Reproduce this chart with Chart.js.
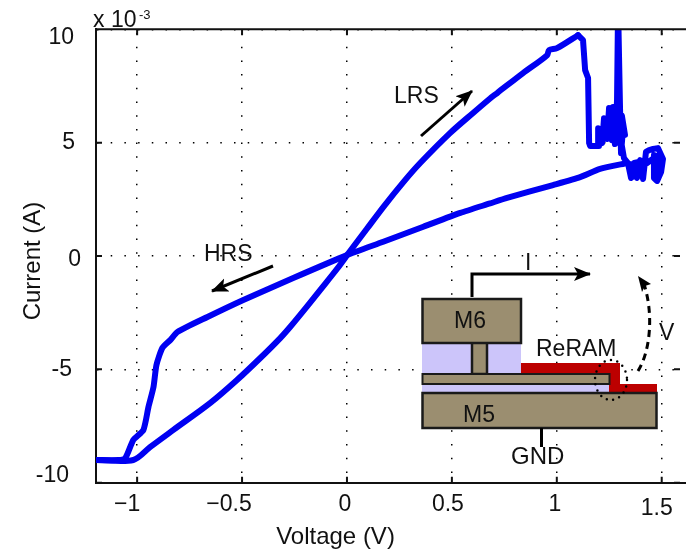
<!DOCTYPE html>
<html>
<head>
<meta charset="utf-8">
<script src="https://cdn.jsdelivr.net/npm/chart.js@4"></script>
<style>
  html, body { margin: 0; padding: 0; background: #fff; }
  #wrap { position: relative; width: 686px; height: 556px; overflow: hidden; }
  #overlay { position: absolute; left: 0; top: 0; }
  #overlay text { font-family: "Liberation Sans", Arial, sans-serif; font-size: 23px; fill: #111; }
</style>
</head>
<body>
<div id="wrap">
  <canvas id="myChart" width="686" height="556"></canvas>
  <svg id="overlay" width="686" height="556">
    <defs>
      <marker id="head" markerUnits="userSpaceOnUse" markerWidth="18" markerHeight="16" refX="16" refY="8" orient="auto">
        <path d="M0,1 L17,8 L0,15 L4,8 z" fill="#000"></path>
      </marker>
    </defs>
    <!-- state labels -->
    <text x="394" y="103">LRS</text>
    <line x1="421" y1="136" x2="472" y2="91" stroke="#000" stroke-width="3" marker-end="url(#head)"></line>
    <text x="204" y="261">HRS</text>
    <line x1="273" y1="266" x2="212" y2="291" stroke="#000" stroke-width="3" marker-end="url(#head)"></line>

    <!-- device cross section -->
    <rect x="422" y="343" width="99" height="31" fill="#ccc5fa"></rect>
    <rect x="422" y="384" width="188" height="9" fill="#ccc5fa"></rect>
    <path d="M521,363 H620 V384 H657 V393 H609 V374 H521 z" fill="#bc0000"></path>
    <rect x="472" y="342" width="15" height="32" fill="#9b8e70" stroke="#1a1a1a" stroke-width="2.5"></rect>
    <rect x="422.5" y="374" width="187" height="10" fill="#9b8e70" stroke="#1a1a1a" stroke-width="2"></rect>
    <rect x="422.5" y="299" width="98.5" height="44" fill="#9b8e70" stroke="#1a1a1a" stroke-width="2.5"></rect>
    <rect x="422.5" y="393" width="234" height="35" fill="#9b8e70" stroke="#1a1a1a" stroke-width="2.5"></rect>
    <text x="454" y="328">M6</text>
    <text x="463" y="422">M5</text>
    <text x="536" y="356">ReRAM</text>
    <text x="511" y="464" style="font-size:24px">GND</text>
    <line x1="541.5" y1="428" x2="541.5" y2="447" stroke="#000" stroke-width="3"></line>
    <ellipse cx="611" cy="380" rx="16" ry="20" fill="none" stroke="#000" stroke-width="2.5" stroke-linecap="round" stroke-dasharray="0 6.5"></ellipse>

    <!-- current and voltage -->
    <path d="M472,297 V274 H590" fill="none" stroke="#000" stroke-width="3" marker-end="url(#head)"></path>
    <text x="525" y="270">I</text>
    <path d="M638,371 C650,352 654,315 644,284" fill="none" stroke="#000" stroke-width="3" stroke-dasharray="7 5"></path>
    <path d="M638,276 L651,284 L645,286 L642,292 z" fill="#000"></path>
    <text x="659" y="340">V</text>
  </svg>
</div>
<script>
// voltage (V) and current (x 10^-3 A), in sweep order
const hrsVoltage = [1.335, 1.206, 1.111, 0.982, 0.763, 0.682, 0.540, 0.364, 0.173, 0, -0.256, -0.494, -0.665, -0.808, -0.841, -0.880, -0.908, -0.922, -0.946, -0.970, -1.018, -1.056, -1.089, -1.194];
const hrsCurrent = [4.10, 3.84, 3.48, 3.13, 2.56, 2.32, 1.90, 1.29, 0.63, 0.04, -0.97, -1.94, -2.69, -3.35, -3.70, -4.06, -4.81, -5.78, -6.66, -7.67, -8.11, -8.91, -9.0, -9.0];

const lrsVoltage = [-1.194, -1.018, -0.937, -0.827, -0.651, -0.524, -0.413, -0.318, -0.270, -0.190, -0.127, -0.046, 0.016, 0.095, 0.174, 0.270, 0.349, 0.491, 0.601, 0.682, 0.716, 0.839, 0.954, 0.963, 1.001, 1.101];
const lrsCurrent = [-9.0, -9.0, -8.42, -7.67, -6.48, -5.47, -4.50, -3.62, -3.12, -2.22, -1.49, -0.55, 0.23, 1.20, 2.17, 3.27, 4.10, 5.42, 6.31, 6.95, 7.19, 8.07, 8.86, 9.08, 9.17, 9.74];

const resetVoltage = [1.101, 1.125, 1.135, 1.149, 1.154, 1.159, 1.201, 1.197, 1.216, 1.225, 1.240, 1.249, 1.263, 1.268, 1.277, 1.287, 1.292, 1.301, 1.306, 1.316, 1.325, 1.310, 1.295, 1.280, 1.270, 1.258, 1.245, 1.230, 1.215, 1.205, 1.240, 1.270, 1.300, 1.320, 1.339, 1.354, 1.360, 1.375, 1.390, 1.405, 1.420, 1.368, 1.382, 1.397, 1.411, 1.425, 1.440, 1.459, 1.482, 1.506, 1.497, 1.478, 1.463, 1.463, 1.470, 1.490, 1.475, 1.397, 1.335];
const resetCurrent = [9.74, 9.52, 8.20, 7.85, 4.98, 4.85, 4.85, 5.64, 4.98, 6.08, 5.16, 6.53, 5.11, 6.57, 4.94, 6.88, 11.0, 6.66, 4.54, 5.64, 5.34, 6.20, 5.00, 6.30, 5.30, 6.50, 5.40, 5.90, 5.40, 5.50, 5.80, 5.60, 5.40, 4.32, 4.10, 3.44, 4.00, 3.50, 4.00, 3.60, 4.20, 4.10, 3.44, 4.23, 3.40, 4.59, 4.67, 4.72, 4.76, 4.28, 3.70, 3.31, 3.44, 4.45, 3.50, 4.20, 4.40, 3.88, 4.10];

const xTicks = [-1, -0.5, 0, 0.5, 1, 1.5];
const xTickLabels = ['\u22121', '\u22120.5', '0', '0.5', '1', '1.5'];
const yTicks = [-10, -5, 0, 5, 10];
const yTickLabels = ['-10', '-5', '0', '5', '10'];

const toPoints = (xs, ys) => xs.map((x, i) => ({ x: x, y: ys[i] }));
const fontFamily = '"Liberation Sans", Arial, sans-serif';

// the tick labels in the figure sit a little off their ticks
const xLabelShift = { '\u22121': [-10, 0], '\u22120.5': [-13, 0], '0': [-2, 0], '0.5': [-4, 0], '1': [-2, 0], '1.5': [-5, 4] };
const yLabelShift = { '10': [0, 8], '5': [1, 0], '0': [7, 4], '-5': [-2, 0], '-10': [-5, -7] };

// MATLAB style axes: inward ticks, top line, axis titles, exponent note
const matlabAxes = {
    id: 'matlabAxes',
    beforeDraw(chart) {
        const shift = (scale, table) => scale.getLabelItems(chart.chartArea).forEach(item => {
            const d = table[item.label];
            item.options.translation[0] += d[0];
            item.options.translation[1] += d[1];
        });
        shift(chart.scales.x, xLabelShift);
        shift(chart.scales.y, yLabelShift);
    },
    afterDraw(chart) {
        const ctx = chart.ctx;
        const area = chart.chartArea;
        ctx.save();
        ctx.strokeStyle = '#111';
        ctx.lineWidth = 2;
        ctx.beginPath();
        ctx.moveTo(area.left - 1, area.top);
        ctx.lineTo(area.right, area.top);
        xTicks.forEach(v => {
            const px = chart.scales.x.getPixelForValue(v);
            ctx.moveTo(px, area.bottom);
            ctx.lineTo(px, area.bottom - 6);
            ctx.moveTo(px, area.top);
            ctx.lineTo(px, area.top + 6);
        });
        yTicks.forEach(v => {
            const py = chart.scales.y.getPixelForValue(v);
            ctx.moveTo(area.left, py);
            ctx.lineTo(area.left + 6, py);
            ctx.moveTo(674, py);
            ctx.lineTo(680, py);
        });
        ctx.stroke();

        ctx.fillStyle = '#111';
        ctx.textAlign = 'left';
        ctx.font = '23px ' + fontFamily;
        ctx.fillText('x 10', 93, 27);
        ctx.font = '13px ' + fontFamily;
        ctx.fillText('-3', 139, 19);

        ctx.font = '24px ' + fontFamily;
        ctx.textAlign = 'center';
        ctx.fillText('Voltage (V)', 335.5, 544);
        ctx.translate(40, 261);
        ctx.rotate(-Math.PI / 2);
        ctx.fillText('Current (A)', 0, 0);
        ctx.restore();
    }
};

const ctx = document.getElementById('myChart').getContext('2d');

const lineStyle = {
    showLine: true,
    borderColor: '#0000f2',
    backgroundColor: '#0000f2',
    borderWidth: 6,
    borderJoinStyle: 'round',
    borderCapStyle: 'round',
    pointRadius: 0
};

new Chart(ctx, {
    type: 'scatter',
    data: {
        datasets: [
            { label: 'HRS', data: toPoints(hrsVoltage, hrsCurrent), ...lineStyle, tension: 0.2 },
            { label: 'LRS', data: toPoints(lrsVoltage, lrsCurrent), ...lineStyle, tension: 0.3 },
            { label: 'Reset', data: toPoints(resetVoltage, resetCurrent), ...lineStyle }
        ]
    },
    options: {
        responsive: false,
        animation: false,
        layout: { padding: { top: 29.3, right: 0, bottom: 0, left: 0 } },
        plugins: { legend: { display: false }, tooltip: { enabled: false } },
        scales: {
            x: {
                type: 'linear',
                min: -1.196,
                max: 1.6157,
                afterFit: s => { s.height = 73.3; s.paddingLeft = 0; s.paddingRight = 0; },
                afterBuildTicks: s => { s.ticks = xTicks.map(v => ({ value: v })); },
                ticks: {
                    color: '#111',
                    padding: 8,
                    maxRotation: 0,
                    autoSkip: false,
                    font: { family: fontFamily, size: 23 },
                    callback: (v, i) => xTickLabels[i]
                },
                grid: { color: '#000', lineWidth: 1.5, drawTicks: false },
                border: { color: '#111', width: 2, dash: [1.5, 12.2], dashOffset: 10 }
            },
            y: {
                type: 'linear',
                min: -10,
                max: 10,
                afterFit: s => { s.width = 96; s.paddingTop = 0; s.paddingBottom = 0; },
                afterBuildTicks: s => { s.ticks = yTicks.map(v => ({ value: v })); },
                ticks: {
                    color: '#111',
                    padding: 22,
                    autoSkip: false,
                    font: { family: fontFamily, size: 23 },
                    callback: (v, i) => yTickLabels[i]
                },
                grid: { color: '#000', lineWidth: 1.5, drawTicks: false },
                border: { color: '#111', width: 2, dash: [1.5, 12.2], dashOffset: 0 }
            }
        }
    },
    plugins: [matlabAxes]
});
</script>
</body>
</html>
